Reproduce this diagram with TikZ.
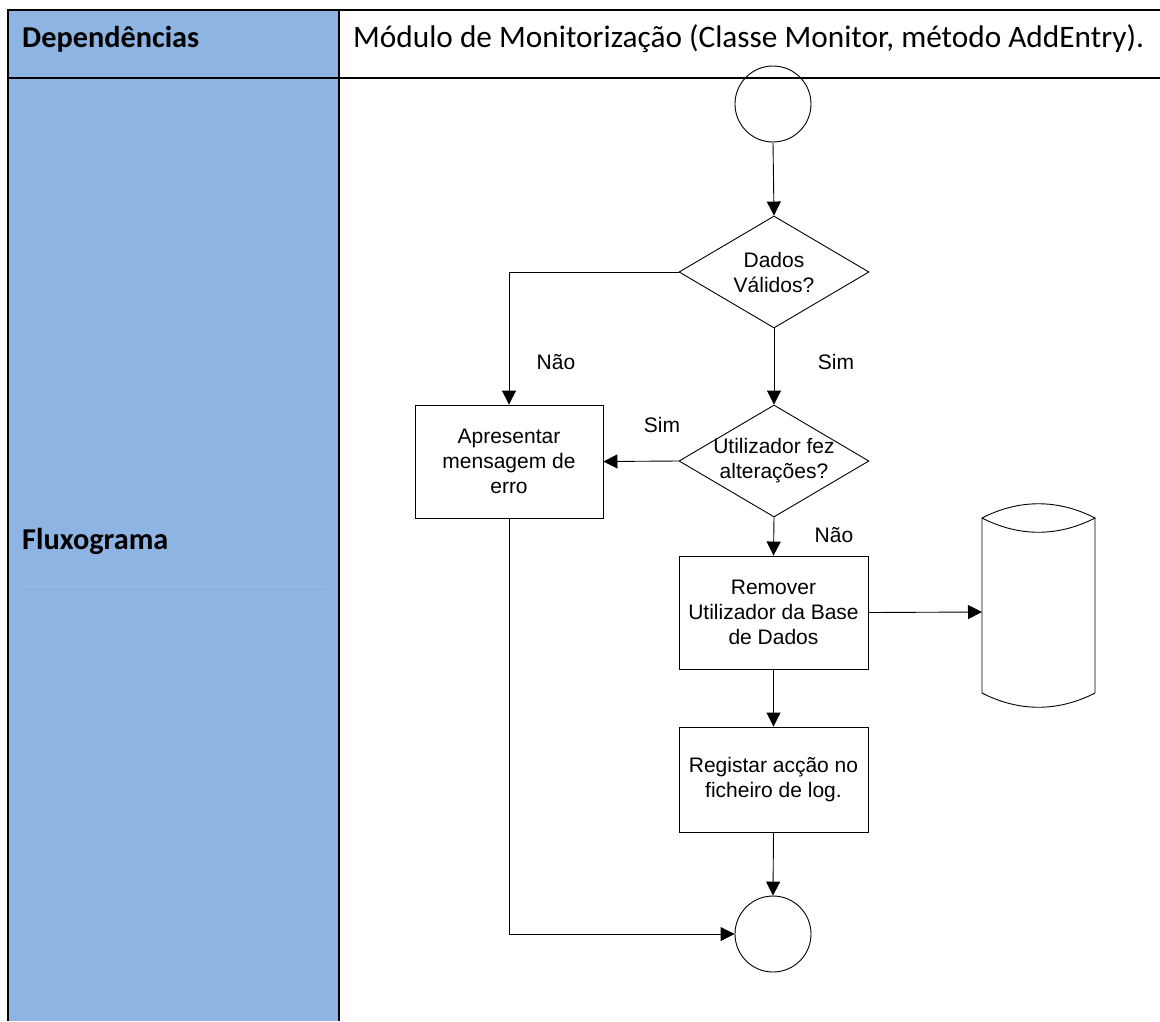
\documentclass[tikz,border=0pt]{standalone}
\usepackage{fontspec}
\setmainfont{Liberation Sans}
\newfontfamily\hdrfont{Carlito}
\usetikzlibrary{arrows.meta,shapes.geometric}
\definecolor{cellblue}{HTML}{8EB4E3}
\definecolor{faintblue}{HTML}{9CBEE8}
\tikzset{
  tbl/.style={line width=2pt,black},
  flow/.style={line width=0.9pt,black},
  arr/.style={flow,-{Triangle[length=14pt,width=14pt]}},
  procbox/.style={flow,draw,rectangle,inner sep=0pt,align=center,
     font=\fontsize{21}{25}\selectfont},
  decis/.style={flow,draw,diamond,inner sep=0pt},
  term/.style={flow,draw,circle,inner sep=0pt,minimum size=76pt},
  txt/.style={font=\fontsize{21}{25}\selectfont,align=center,inner sep=0pt},
  hdr/.style={font=\hdrfont\fontsize{31.3}{37}\selectfont,inner sep=0pt,anchor=base west},
  hdrb/.style={hdr,font=\hdrfont\bfseries\fontsize{30.3}{36}\selectfont},
}
\begin{document}
\begin{tikzpicture}[x=1pt,y=-1pt]
\useasboundingbox (0,0) rectangle (1160,1021);
% table
\fill[cellblue] (8,10) rectangle (339,1021);
\draw[faintblue,line width=0.8pt] (22,586) -- (325,586);
\draw[tbl] (7,10) -- (1160,10);
\draw[tbl] (7,78) -- (1160,78);
\draw[tbl] (8,9) -- (8,1021);
\draw[tbl] (339,9) -- (339,1021);
\node[hdrb] (hdep) at (22,47) {Dependências};
\node[hdr] (hmod) at (353,47) {Módulo de Monitorização (Classe Monitor, método AddEntry).};
\node[hdrb] (hflux) at (22,549) {Fluxograma};
% flowchart
\node[term] (start) at (773,104) {};
\node[decis,minimum width=190pt,minimum height=112pt] (d1) at (774,272) {};
\node[txt] (d1t) at (d1.center) {Dados\\Válidos?};
\node[decis,minimum width=190pt,minimum height=112pt] (d2) at (774,461) {};
\node[txt] (d2t) at (d2.center) {Utilizador fez\\alterações?};
\node[procbox,minimum width=188pt,minimum height=113pt] (b1) at (509,461.5) {Apresentar\\mensagem de\\erro};
\node[procbox,minimum width=189pt,minimum height=113pt] (b2) at (773.5,612.5) {Remover\\Utilizador da Base\\de Dados};
\node[procbox,minimum width=189pt,minimum height=105pt] (b3) at (773.5,779.5) {Registar acção no\\ficheiro de log.};
\node[term] (end) at (773,934) {};
% database
\draw[flow] (982,518) .. controls (1019,499) and (1058,499) .. (1095,518)
   .. controls (1058,537) and (1019,537) .. (982,518) -- (982,693)
   .. controls (1019,712) and (1058,712) .. (1095,693) -- (1095,518);
\coordinate (db) at (982,612);
% connectors
\draw[arr] (start.south) -- (d1.north);
\draw[arr] (d1.west) -| (b1.north);
\draw[arr] (d1.south) -- (d2.north);
\draw[arr] (d2.west) -- (b1.east);
\draw[arr] (d2.south) -- (b2.north);
\draw[arr] (b2.east) -- (db);
\draw[arr] (b2.south) -- (b3.north);
\draw[arr] (b3.south) -- (end.north);
\draw[arr] (b1.south) |- (end.west);
% labels
\node[txt] (lnao1) at (556,362) {Não};
\node[txt] (lsim1) at (836,362) {Sim};
\node[txt] (lsim2) at (662,425) {Sim};
\node[txt] (lnao2) at (834,535) {Não};
\end{tikzpicture}
\end{document}
